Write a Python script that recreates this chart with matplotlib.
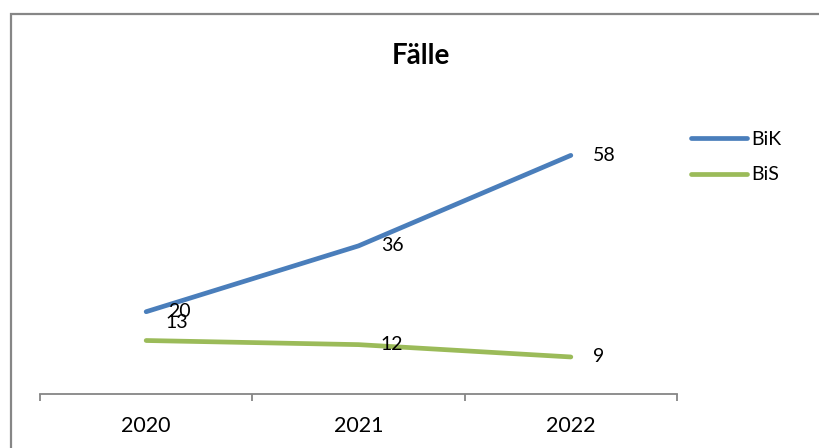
import matplotlib.pyplot as plt
from matplotlib.patches import Rectangle

plt.rcParams['font.family'] = ['Lato', 'DejaVu Sans']

years = ['2020', '2021', '2022']
bik = [20, 36, 58]
bis = [13, 12, 9]

blue = '#4A7EBB'
green = '#9BBB59'
grey = '#868686'

fig = plt.figure(figsize=(8.19, 4.48), dpi=100)
ax = fig.add_axes([40/819, 54/448, 637/819, 288/448])

x = range(len(years))
ax.plot(x, bik, color=blue, lw=3.4, solid_capstyle='round', label='BiK')
ax.plot(x, bis, color=green, lw=3.4, solid_capstyle='round', label='BiS')

ax.set_xlim(-0.5, 2.5)
ax.set_ylim(0, 70)

# data labels (offsets in points)
bik_off = [(16, 0), (16, 0), (16, 0)]
bis_off = [(14, 13), (16, 0), (16, 0)]
for i, v in enumerate(bik):
    ax.annotate(str(v), (i, v), xytext=bik_off[i], textcoords='offset points',
                ha='left', va='center', fontsize=14)
for i, v in enumerate(bis):
    ax.annotate(str(v), (i, v), xytext=bis_off[i], textcoords='offset points',
                ha='left', va='center', fontsize=14)

# axis styling like Excel
for s in ['top', 'right', 'left']:
    ax.spines[s].set_visible(False)
ax.spines['bottom'].set_color(grey)
ax.spines['bottom'].set_linewidth(1.3)
ax.set_yticks([])
ax.set_xticks([-0.5, 0.5, 1.5, 2.5])
ax.set_xticklabels([])
ax.tick_params(axis='x', which='major', direction='out', length=5, width=1.3, color=grey)
ax.set_xticks(list(x), minor=True)
ax.set_xticklabels(years, minor=True, fontsize=15.5)
ax.tick_params(axis='x', which='minor', length=0, pad=16)

fig.text(421/819, 1 - 56/448, 'Fälle', ha='center', va='center',
         fontsize=20, fontweight='bold')

fig.legend(loc='upper left', bbox_to_anchor=(691/819, 1 - 131/448), frameon=False,
           fontsize=14, handlelength=2.9, handletextpad=0.2, labelspacing=0.95,
           borderaxespad=0, borderpad=0)

# outer chart border (cropped at right and bottom)
fig.patches.append(Rectangle((11/819, -0.1), 1.2, (448-14)/448 + 0.1,
                             transform=fig.transFigure, fill=False,
                             edgecolor=grey, lw=1.6))

fig.savefig('out.png', dpi=100)
